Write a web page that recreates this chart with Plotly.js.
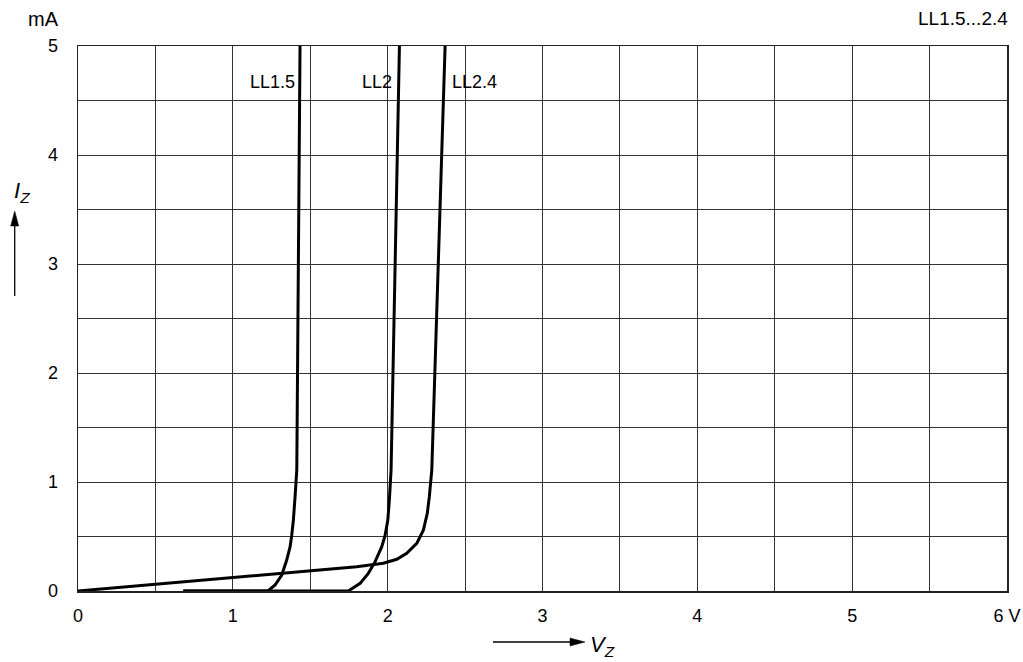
<!DOCTYPE html>
<html>
<head>
<meta charset="utf-8">
<script src="https://cdn.plot.ly/plotly-3.0.1.min.js"></script>
<style>
html,body{margin:0;padding:0;background:#fff;}
#chart{width:1023px;height:662px;}
</style>
</head>
<body>
<div id="chart"></div>
<script>
// ---- data ----
const seriesNames = ["LL1.5", "LL2", "LL2.4"];

const voltsLL15   = [0.68, 1.0, 1.227, 1.273, 1.316, 1.348, 1.370, 1.380, 1.391, 1.402, 1.408, 1.413, 1.434];
const currentLL15 = [0,    0,   0,     0.055, 0.147, 0.284, 0.407, 0.507, 0.651, 0.865, 1.0,   1.11,  5];

const voltsLL2    = [0.68, 1.2, 1.746, 1.822, 1.875, 1.919, 1.962, 1.983, 2.001, 2.011, 2.017, 2.022, 2.076];
const currentLL2  = [0,    0,   0,     0.070, 0.162, 0.269, 0.407, 0.507, 0.651, 0.835, 0.997, 1.11,  5];

const voltsLL24   = [0, 0.5,  1.0,  1.5,   1.8,   1.972, 2.059, 2.123, 2.188, 2.231, 2.256, 2.269, 2.278, 2.285, 2.371];
const currentLL24 = [0, 0.06, 0.12, 0.185, 0.222, 0.254, 0.291, 0.346, 0.437, 0.560, 0.713, 0.865, 0.997, 1.11,  5];

const xTickVals  = [0, 1, 2, 3, 4, 5, 6];
const xTickText  = ["0", "1", "2", "3", "4", "5", "6 V"];
const yTickVals  = [0, 1, 2, 3, 4, 5];
const yTickText  = ["0", "1", "2", "3", "4", "5"];

const chartTitle = "LL1.5...2.4";
const yUnit = "mA";
const yAxisLabel = "<i>I</i><sub><i>Z</i></sub>";
const xAxisLabel = "<i>V</i><sub><i>Z</i></sub>";
const labelLevel = 4.67; // current level at which curve names are written

// ---- build ----
const FONT = "Liberation Sans, Arial, Helvetica, sans-serif";
const W = 1023, H = 662;
const M = {l: 78, r: 16, t: 46, b: 71};
const PW = W - M.l - M.r, PH = H - M.t - M.b;
const px = v => (v - M.l) / PW;        // pixel -> paper x
const py = v => (H - M.b - v) / PH;    // pixel -> paper y

const allX = [voltsLL15, voltsLL2, voltsLL24];
const allY = [currentLL15, currentLL2, currentLL24];

const traces = allX.map((xs, i) => ({
  x: xs, y: allY[i], type: "scatter", mode: "lines",
  name: seriesNames[i],
  line: {color: "#000", width: 3},
  hoverinfo: "skip"
}));

function xAt(xs, ys, level) {
  for (let k = 1; k < xs.length; k++) {
    if (ys[k] >= level) {
      const t = (level - ys[k-1]) / (ys[k] - ys[k-1]);
      return xs[k-1] + t * (xs[k] - xs[k-1]);
    }
  }
  return xs[xs.length-1];
}

const labelSides = ["right", "right", "left"];
const labelShift = [-3, -5, 6];
const annotations = seriesNames.map((nm, i) => ({
  x: xAt(allX[i], allY[i], labelLevel), y: labelLevel,
  xref: "x", yref: "y", text: nm, showarrow: false,
  xanchor: labelSides[i], yanchor: "middle", xshift: labelShift[i],
  font: {family: FONT, size: 18, color: "#000"}
}));

annotations.push(
  {xref: "paper", yref: "paper", x: px(61), y: py(19), text: yUnit, showarrow: false,
   xanchor: "right", yanchor: "middle", font: {family: FONT, size: 20, color: "#000"}},
  {xref: "paper", yref: "paper", x: px(1010), y: py(18), text: chartTitle, showarrow: false,
   xanchor: "right", yanchor: "middle", font: {family: FONT, size: 19, color: "#000"}},
  {xref: "paper", yref: "paper", x: px(22), y: py(192), text: yAxisLabel, showarrow: false,
   xanchor: "center", yanchor: "middle", font: {family: FONT, size: 22, color: "#000"}},
  {xref: "paper", yref: "paper", x: px(602), y: py(646), text: xAxisLabel, showarrow: false,
   xanchor: "center", yanchor: "middle", font: {family: FONT, size: 22, color: "#000"}}
);

// arrows (decoration) as shapes
const shapes = [
  {type: "line", xref: "paper", yref: "paper", x0: px(14.7), x1: px(14.7), y0: py(296), y1: py(224),
   line: {color: "#000", width: 1.3}},
  {type: "path", xref: "paper", yref: "paper",
   path: `M ${px(14.7)} ${py(211)} L ${px(10.7)} ${py(226)} L ${px(18.7)} ${py(226)} Z`,
   fillcolor: "#000", line: {color: "#000", width: 0.5}},
  {type: "line", xref: "paper", yref: "paper", x0: px(493), x1: px(572), y0: py(642), y1: py(642),
   line: {color: "#000", width: 1.3}},
  {type: "path", xref: "paper", yref: "paper",
   path: `M ${px(585)} ${py(642)} L ${px(570)} ${py(638)} L ${px(570)} ${py(646)} Z`,
   fillcolor: "#000", line: {color: "#000", width: 0.5}}
];

const gridCol = "#333";
const layout = {
  width: W, height: H,
  margin: {l: M.l, r: M.r, t: M.t, b: M.b, pad: 0},
  paper_bgcolor: "#fff", plot_bgcolor: "#fff",
  showlegend: false,
  font: {family: FONT, size: 18, color: "#000"},
  xaxis: {
    range: [0, 6], tickvals: xTickVals, ticktext: xTickText,
    showgrid: true, gridcolor: gridCol, gridwidth: 1,
    minor: {dtick: 0.5, tick0: 0, showgrid: true, gridcolor: gridCol, gridwidth: 1},
    zeroline: false, showline: true, linecolor: "#222", linewidth: 1.5, mirror: true,
    ticks: "", ticklabelstandoff: 8,
    tickfont: {family: FONT, size: 18, color: "#000"},
    fixedrange: true
  },
  yaxis: {
    range: [0, 5], tickvals: yTickVals, ticktext: yTickText,
    showgrid: true, gridcolor: gridCol, gridwidth: 1,
    minor: {dtick: 0.5, tick0: 0, showgrid: true, gridcolor: gridCol, gridwidth: 1},
    zeroline: false, showline: true, linecolor: "#222", linewidth: 1.5, mirror: true,
    ticks: "", ticklabelstandoff: 15,
    tickfont: {family: FONT, size: 18, color: "#000"},
    fixedrange: true
  },
  annotations: annotations,
  shapes: shapes
};

Plotly.newPlot("chart", traces, layout, {staticPlot: true, displayModeBar: false});
</script>
</body>
</html>
